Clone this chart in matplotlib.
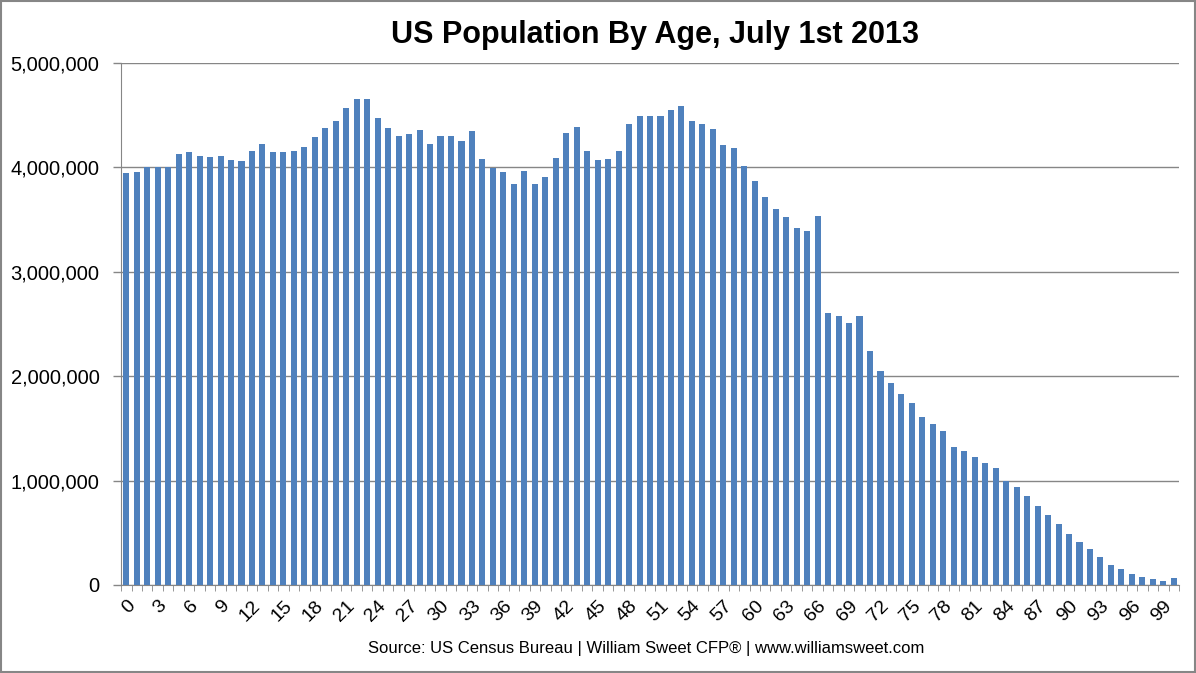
import numpy as np
import matplotlib as mpl
from matplotlib import pyplot as plt
from matplotlib import ticker as ticker
from matplotlib.patches import Rectangle

# ages 0..100, population on July 1st 2013
ages = list(range(0, 101))
population = [
    3943000, 3956000, 4000000, 4000000, 4000000, 4128000, 4148000, 4109000, 4100000, 4109000,
    4070000, 4060000, 4157000, 4224000, 4148000, 4148000, 4157000, 4195000, 4290000, 4377000,
    4444000, 4569000, 4655000, 4655000, 4473000, 4377000, 4300000, 4320000, 4358000, 4224000,
    4300000, 4300000, 4253000, 4349000, 4080000, 3997000, 3956000, 3841000, 3966000, 3841000,
    3908000, 4090000, 4330000, 4387000, 4157000, 4070000, 4080000, 4157000, 4416000, 4492000,
    4492000, 4492000, 4550000, 4588000, 4444000, 4416000, 4368000, 4215000, 4186000, 4013000,
    3870000, 3716000, 3600000, 3525000, 3420000, 3390000, 3535000, 2604000, 2575000, 2508000,
    2575000, 2239000, 2047000, 1932000, 1826000, 1740000, 1606000, 1539000, 1472000, 1318000,
    1280000, 1222000, 1165000, 1116000, 998000, 934000, 848000, 752000, 675000, 588000,
    492000, 416000, 348000, 272000, 195000, 157000, 109000, 80000, 60000, 41000,
    70000,
]
label_ages = ages[::3]
yticks = [0, 1000000, 2000000, 3000000, 4000000, 5000000]

title = "US Population By Age, July 1st 2013"
source = "Source: US Census Bureau | William Sweet CFP® | www.williamsweet.com"

plt.rcParams['font.family'] = ['Liberation Sans Narrow', 'Liberation Sans', 'DejaVu Sans']

bar_color = '#4F81BD'
grid_color = '#868686'

fig = plt.figure(figsize=(11.96, 6.73), dpi=100)
ax = fig.add_axes([0.1012, 0.1308, 0.8846, 0.7756])

ax.bar(ages, population, width=0.58, color=bar_color, zorder=3)

ax.set_xlim(-0.5, 100.5)
ax.set_ylim(0, 5000000)
ax.set_yticks(yticks)
ax.yaxis.set_major_formatter(ticker.FuncFormatter(lambda v, p: '{:,.0f}'.format(v)))
ax.grid(axis='y', color=grid_color, linewidth=1.0, zorder=0)
ax.tick_params(axis='y', length=5.5, width=1.0, color=grid_color, direction='out',
               labelsize=14.5, pad=10)

# labels every 3 years, tick marks between every bar
ax.set_xticks(label_ages)
ax.set_xticklabels([str(a) for a in label_ages], rotation=45, ha='right', va='top',
                   rotation_mode='anchor', fontsize=14)
ax.set_xticks(np.arange(-0.5, 101, 1), minor=True)
ax.tick_params(axis='x', which='major', length=0, pad=9)
ax.tick_params(axis='x', which='minor', length=4.5, color=grid_color, direction='out')

for side in ['top', 'right']:
    ax.spines[side].set_visible(False)
ax.spines['left'].set_color(grid_color)
ax.spines['bottom'].set_color(grid_color)

fig.text(0.548, 0.948, title, ha='center', va='center', fontsize=22, fontweight='bold',
         family=['Liberation Sans', 'DejaVu Sans'])
fig.text(0.54, 0.037, source, ha='center', va='center', fontsize=12)

fig.patches.append(Rectangle((0.0008, 0.0012), 0.9984, 0.9976, transform=fig.transFigure,
                             fill=False, edgecolor=grid_color, linewidth=1.5))

plt.savefig('out.png', dpi=100, facecolor='w')
plt.close('all')
